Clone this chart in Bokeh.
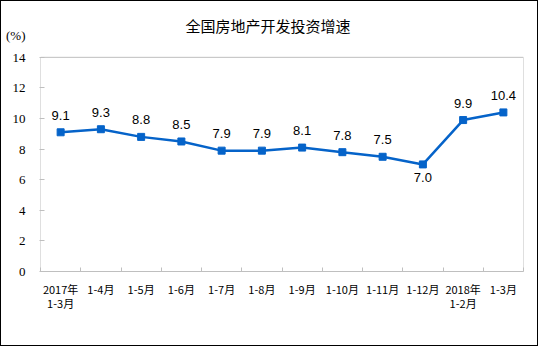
from bokeh.plotting import figure
from bokeh.models import FixedTicker, Label, ColumnDataSource, Range1d
from bokeh.embed import file_html
from bokeh.resources import INLINE

categories = ["2017年\n1-3月", "1-4月", "1-5月", "1-6月", "1-7月", "1-8月", "1-9月",
              "1-10月", "1-11月", "1-12月", "2018年\n1-2月", "1-3月"]
values = [9.1, 9.3, 8.8, 8.5, 7.9, 7.9, 8.1, 7.8, 7.5, 7.0, 9.9, 10.4]
y_ticks = [0, 2, 4, 6, 8, 10, 12, 14]
title_text = "全国房地产开发投资增速"
unit_text = "(%)"

xs = list(range(len(categories)))
color = "#0563C9"
grey = "#BFBFBF"
y_top = y_ticks[-1]
unit_pos = 15.4
title_pos = 16.1

p = figure(width=538, height=346, output_backend="svg", toolbar_location=None,
           x_range=Range1d(-0.5, len(categories) - 0.5), y_range=Range1d(0, 17.65),
           min_border_left=39, min_border_right=16, min_border_top=0, min_border_bottom=76)
p.styles = {"border": "1px solid black", "box-sizing": "border-box"}
p.outline_line_color = None
p.xgrid.visible = False
p.ygrid.visible = False

# plot-area box
p.quad(left=[-0.5], right=[len(categories) - 0.5], bottom=[0], top=[y_top],
       fill_color=None, line_color=grey, line_width=1)

p.xaxis.ticker = FixedTicker(ticks=xs, minor_ticks=[i - 0.5 for i in range(len(categories) + 1)])
p.xaxis.major_label_overrides = {i: c for i, c in enumerate(categories)}
p.xaxis.major_tick_line_color = None
p.xaxis.minor_tick_in = 4
p.xaxis.minor_tick_out = 0
p.xaxis.minor_tick_line_color = grey
p.xaxis.axis_line_color = grey
p.xaxis.major_label_text_font = "Noto Sans CJK SC"
p.xaxis.major_label_text_font_size = "11px"
p.xaxis.major_label_text_color = "#000000"
p.xaxis.major_label_text_line_height = 0.9
p.xaxis.major_label_standoff = 3

p.yaxis.ticker = FixedTicker(ticks=y_ticks + [unit_pos], minor_ticks=y_ticks)
p.yaxis.major_label_overrides = {unit_pos: unit_text}
p.yaxis.major_tick_line_color = None
p.yaxis.minor_tick_in = 4
p.yaxis.minor_tick_out = 1
p.yaxis.minor_tick_line_color = grey
p.yaxis.axis_line_color = None
p.yaxis.major_label_text_font = "Liberation Serif"
p.yaxis.major_label_text_font_size = "13px"
p.yaxis.major_label_text_color = "#000000"
p.yaxis.major_label_standoff = 9

src = ColumnDataSource(dict(x=xs, y=values, t=[f"{v:.1f}" for v in values],
                            dy=[-13 if i == 9 else 17 for i in range(len(values))]))
p.line("x", "y", source=src, line_color=color, line_width=2.5)
p.scatter("x", "y", source=src, marker="square", size=7, fill_color=color, line_color=color)

for x, v, t, d in zip(xs, values, src.data["t"], src.data["dy"]):
    p.add_layout(Label(x=x, y=v, text=t, y_offset=d, text_align="center", text_baseline="middle",
                       text_font="Liberation Sans", text_font_size="13px", text_color="#000000"))

p.add_layout(Label(x=(len(categories) - 1) / 2 - 0.35, y=title_pos, text=title_text,
                   text_align="center", text_baseline="middle",
                   text_font="Noto Sans CJK SC", text_font_size="15px", text_color="#000000"))

open("out.html", "w").write(file_html(p, INLINE))
